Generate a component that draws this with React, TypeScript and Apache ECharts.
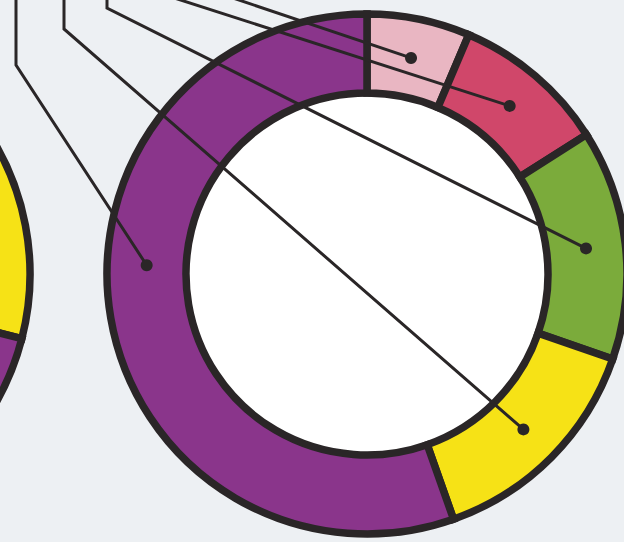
import React, { useEffect, useRef } from "react";
import * as echarts from "echarts";

// ---- data ----
const categories = ["Category A", "Category B", "Category C", "Category D", "Category E"];
const mainValues = [6.4, 9.6, 14.3, 14.3, 55.4];
const sideValues = [4, 5, 6, 14, 71];
const sliceColors = ["#e9b6c2", "#d0476a", "#7bab3b", "#f6e216", "#8a358b"];

// ---- annotation (leader lines coming from labels above the visible area) ----
// order matches categories
const leaderPaths: number[][][] = [
  [[224, -5]],
  [[165, -5]],
  [[107, -5], [107, 8]],
  [[64, -5], [64, 29]],
  [[16, -5], [16, 65]],
];
const anchorNudge = [0, 0, 0, 0, 12];

const W = 624;
const H = 542;
const CX = 367;
const CY = 274;
const R_IN = 181;
const R_OUT = 260;
const INK = "#2a2627";

export default function App() {
  const ref = useRef<HTMLDivElement>(null);
  useEffect(() => {
    document.body.style.margin = "0";
    const chart = echarts.init(ref.current!, null, { renderer: "svg" });

    const total = mainValues.reduce((a, b) => a + b, 0);
    let cum = 0;
    const rMid = (R_IN + R_OUT) / 2;
    const graphics: any[] = [];
    mainValues.forEach((v, i) => {
      const midDeg = (360 * (cum + v / 2)) / total + anchorNudge[i];
      cum += v;
      const a = (midDeg * Math.PI) / 180;
      const x = CX + rMid * Math.sin(a);
      const y = CY - rMid * Math.cos(a);
      const pts = [...leaderPaths[i], [x, y]];
      graphics.push({
        type: "polyline",
        z: 100,
        silent: true,
        shape: { points: pts },
        style: { stroke: INK, lineWidth: 3, fill: null, lineJoin: "miter" },
      });
      graphics.push({
        type: "circle",
        z: 101,
        silent: true,
        shape: { cx: x, cy: y, r: 6 },
        style: { fill: INK },
      });
    });

    const makeData = (vals: number[]) =>
      vals.map((v, i) => ({
        name: categories[i],
        value: v,
        itemStyle: { color: sliceColors[i] },
      }));

    const ringStyle = {
      borderColor: INK,
      borderWidth: 7.5,
      borderJoin: "miter",
    };

    chart.setOption({
      animation: false,
      backgroundColor: "#edf0f3",
      tooltip: { show: false },
      series: [
        {
          type: "pie",
          center: [CX, CY],
          radius: [0, R_IN],
          silent: true,
          label: { show: false },
          labelLine: { show: false },
          itemStyle: { color: "#ffffff", borderWidth: 0 },
          data: [{ name: "hole", value: 1 }],
          z: 1,
        },
        {
          type: "pie",
          center: [CX, CY],
          radius: [R_IN, R_OUT],
          startAngle: 90,
          clockwise: true,
          silent: true,
          avoidLabelOverlap: false,
          label: { show: false },
          labelLine: { show: false },
          itemStyle: ringStyle,
          data: makeData(mainValues),
          z: 2,
        },
        {
          type: "pie",
          center: [CX - 597, CY],
          radius: [R_IN, R_OUT],
          startAngle: 90,
          clockwise: true,
          silent: true,
          label: { show: false },
          labelLine: { show: false },
          itemStyle: ringStyle,
          data: makeData(sideValues),
          z: 2,
        },
      ],
      graphic: { elements: graphics },
    });
    return () => chart.dispose();
  }, []);
  return (
    <div
      ref={ref}
      style={{ position: "fixed", left: 0, top: 0, width: W, height: H }}
    />
  );
}
